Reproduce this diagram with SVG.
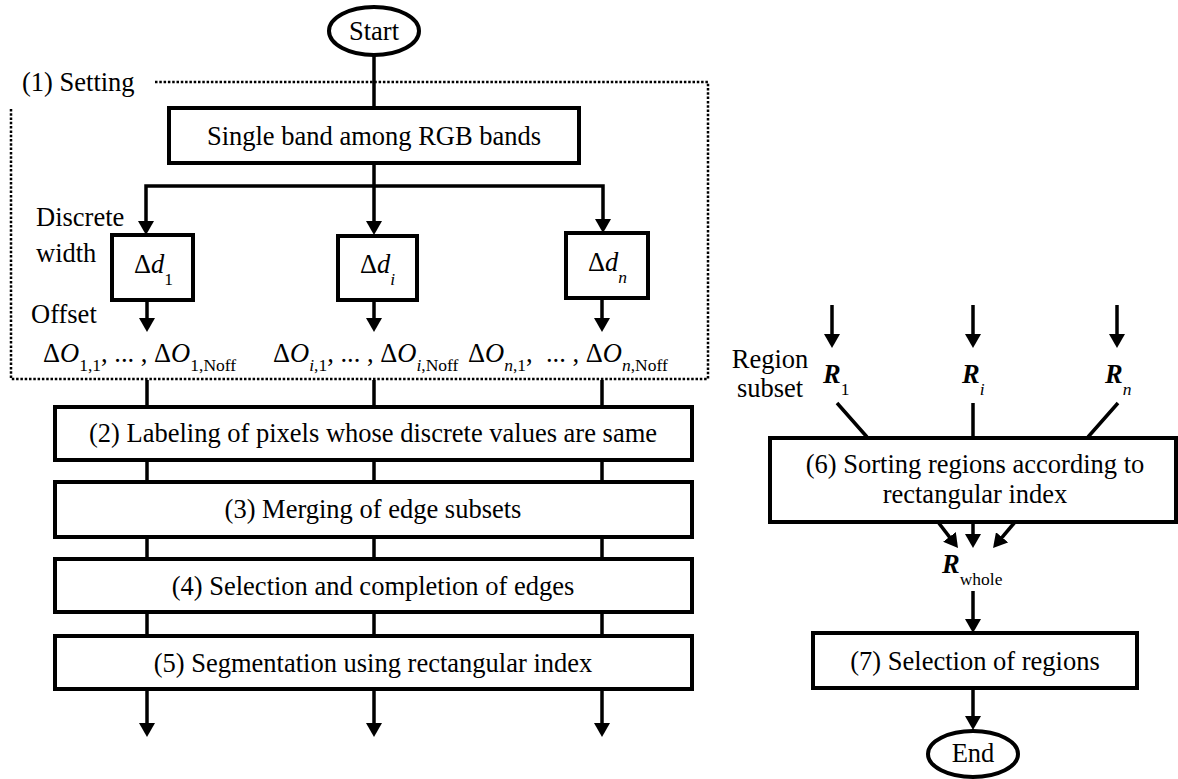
<svg xmlns="http://www.w3.org/2000/svg" width="1178" height="779" viewBox="0 0 1178 779">
<style>
text{font-family:"Liberation Serif","Times New Roman",serif;font-size:26.5px;fill:#000}
.c{text-anchor:middle}
.box{fill:#fff;stroke:#000;stroke-width:4}
.ell{fill:#fff;stroke:#000;stroke-width:4}
.ln{fill:none;stroke:#000;stroke-width:3.5;stroke-linejoin:miter}
.arr{fill:none;stroke:#000;stroke-width:3.5;marker-end:url(#ah)}
.dot{fill:none;stroke:#000;stroke-width:2.5;stroke-dasharray:2.5 1.8}
.it{font-style:italic}
.sub{font-size:17.5px}
.bi{font-style:italic;font-weight:bold}
</style>
<defs>
<marker id="ah" viewBox="0 0 14 16" markerWidth="14" markerHeight="16" refX="4" refY="8" orient="auto" markerUnits="userSpaceOnUse">
<path d="M0,0 L14,8 L0,16 z" fill="#000"/>
</marker>
</defs>

<g id="setting-frame">
<path class="dot" d="M155,82 H708 V379 H11 V107"/>
<text x="22" y="91">(1) Setting</text>
</g>

<g id="connectors">
<path class="ln" d="M374,55 V108"/>
<path class="ln" d="M374,163 V186"/>
<path class="arr" d="M374,186 V225"/>
<path class="arr" d="M374,186 H146 V225"/>
<path class="arr" d="M374,186 H603 V223"/>
<path class="arr" d="M147,300 V322"/>
<path class="arr" d="M374,300 V322"/>
<path class="arr" d="M602,298 V322"/>
<path class="ln" d="M147,380 V407 M374,380 V407 M602,380 V407"/>
<path class="ln" d="M147,460 V482 M374,460 V482 M602,460 V482"/>
<path class="ln" d="M147,537 V559 M374,537 V559 M602,537 V559"/>
<path class="ln" d="M147,612 V636 M374,612 V636 M602,612 V636"/>
<path class="arr" d="M147,689 V727"/>
<path class="arr" d="M374,689 V727"/>
<path class="arr" d="M602,689 V727"/>
<path class="arr" d="M832,305 V338"/>
<path class="arr" d="M973,305 V338"/>
<path class="arr" d="M1117,305 V338"/>
<path class="ln" d="M837,403 L867,437 M973,403 V437 M1118,403 L1088,437"/>
<path class="arr" d="M938,522 L951.9,540.1"/>
<path class="arr" d="M973,522 V538"/>
<path class="arr" d="M1015,522 L999.5,540.4"/>
<path class="arr" d="M973,591 V623"/>
<path class="arr" d="M973,688 V720"/>
</g>

<g id="start">
<ellipse class="ell" cx="374" cy="31" rx="45" ry="24"/>
<text class="c" x="374" y="40">Start</text>
</g>

<g id="single-band">
<rect class="box" x="169" y="108" width="410" height="55"/>
<text class="c" x="374" y="145">Single band among RGB bands</text>
</g>

<g id="discrete-width-label">
<text x="36" y="226">Discrete</text>
<text x="36" y="262">width</text>
</g>

<g id="d1">
<rect class="box" x="112" y="235" width="81" height="65"/>
<text x="134" y="273">Δ<tspan class="it">d</tspan><tspan class="sub" dy="12">1</tspan></text>
</g>
<g id="di">
<rect class="box" x="338" y="236" width="79" height="64"/>
<text x="360" y="273">Δ<tspan class="it">d</tspan><tspan class="sub it" dy="12">i</tspan></text>
</g>
<g id="dn">
<rect class="box" x="566" y="233" width="82" height="65"/>
<text x="588" y="271">Δ<tspan class="it">d</tspan><tspan class="sub it" dy="12">n</tspan></text>
</g>

<g id="offset-label">
<text x="31" y="323">Offset</text>
</g>

<g id="offsets">
<text x="43" y="362">Δ<tspan class="it">O</tspan><tspan class="sub" dy="9">1,1</tspan><tspan dy="-9">, ... , Δ</tspan><tspan class="it">O</tspan><tspan class="sub" dy="9">1,Noff</tspan></text>
<text x="273" y="362">Δ<tspan class="it">O</tspan><tspan class="sub" dy="9"><tspan class="it">i</tspan>,1</tspan><tspan dy="-9">, ... , Δ</tspan><tspan class="it">O</tspan><tspan class="sub" dy="9"><tspan class="it">i</tspan>,Noff</tspan></text>
<text x="468" y="362" style="white-space:pre">Δ<tspan class="it">O</tspan><tspan class="sub" dy="9"><tspan class="it">n</tspan>,1</tspan><tspan dy="-9">,  ... , Δ</tspan><tspan class="it">O</tspan><tspan class="sub" dy="9"><tspan class="it">n</tspan>,Noff</tspan></text>
</g>

<g id="step2">
<rect class="box" x="55" y="407" width="637" height="53"/>
<text class="c" x="373" y="442">(2) Labeling of pixels whose discrete values are same</text>
</g>
<g id="step3">
<rect class="box" x="55" y="482" width="637" height="55"/>
<text class="c" x="373" y="518">(3) Merging of edge subsets</text>
</g>
<g id="step4">
<rect class="box" x="55" y="559" width="637" height="53"/>
<text class="c" x="373" y="595">(4) Selection and completion of edges</text>
</g>
<g id="step5">
<rect class="box" x="55" y="636" width="637" height="53"/>
<text class="c" x="373" y="672">(5) Segmentation using rectangular index</text>
</g>

<g id="region-subset-label">
<text class="c" x="770" y="368">Region</text>
<text class="c" x="770" y="397">subset</text>
</g>
<g id="r1">
<text x="823" y="383"><tspan class="bi">R</tspan><tspan class="sub" dy="12">1</tspan></text>
</g>
<g id="ri">
<text x="962" y="383"><tspan class="bi">R</tspan><tspan class="sub it" dy="12">i</tspan></text>
</g>
<g id="rn">
<text x="1105" y="383"><tspan class="bi">R</tspan><tspan class="sub it" dy="12">n</tspan></text>
</g>

<g id="step6">
<rect class="box" x="770" y="438" width="406" height="84"/>
<text class="c" x="975" y="473">(6) Sorting regions according to</text>
<text class="c" x="975" y="503">rectangular index</text>
</g>

<g id="rwhole">
<text x="942" y="573"><tspan class="bi">R</tspan><tspan class="sub" dy="12">whole</tspan></text>
</g>

<g id="step7">
<rect class="box" x="813" y="633" width="324" height="55"/>
<text class="c" x="975" y="670">(7) Selection of regions</text>
</g>

<g id="end">
<ellipse class="ell" cx="973" cy="754" rx="45" ry="23"/>
<text class="c" x="973" y="762">End</text>
</g>
</svg>
